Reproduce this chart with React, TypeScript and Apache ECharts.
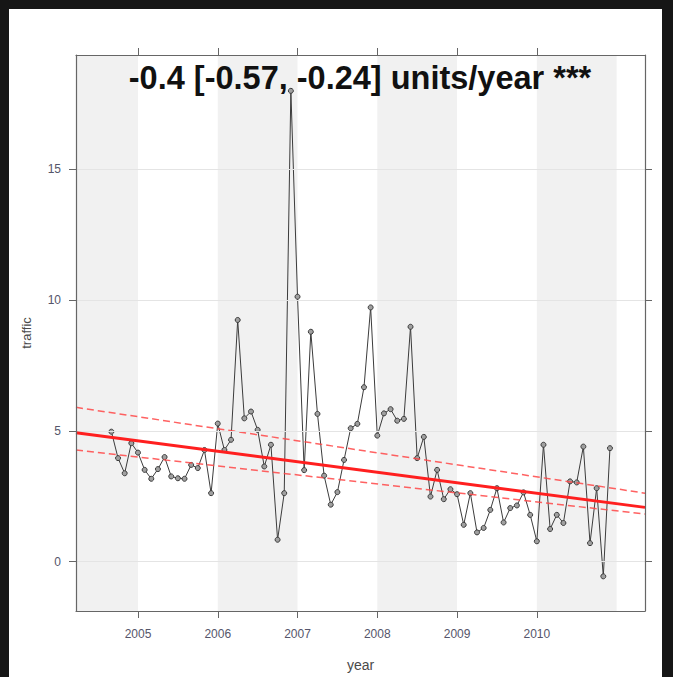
import React, { useEffect, useRef } from "react";
import * as echarts from "echarts";

// Monthly mean traffic, Sep 2004 – Dec 2010
const firstMonth = { year: 2004, month: 9 };
const trafficValues = [
  4.97, 3.96, 3.38, 4.53, 4.17, 3.51, 3.17, 3.54, 4.0, 3.26,
  3.19, 3.17, 3.7, 3.58, 4.27, 2.62, 5.28, 4.27, 4.66, 9.24,
  5.48, 5.74, 5.04, 3.64, 4.47, 0.84, 2.62, 18.0, 10.13, 3.5,
  8.79, 5.65, 3.29, 2.18, 2.66, 3.89, 5.1, 5.27, 6.67, 9.72,
  4.82, 5.67, 5.83, 5.39, 5.46, 8.98, 3.96, 4.77, 2.49, 3.51,
  2.39, 2.77, 2.58, 1.41, 2.62, 1.12, 1.29, 1.98, 2.81, 1.5,
  2.05, 2.15, 2.65, 1.79, 0.78, 4.47, 1.25, 1.79, 1.48, 3.07,
  3.03, 4.4, 0.71, 2.81, -0.56, 4.34,
];

// Axis extents (decimal years / traffic units)
const xRange = [2004.223, 2011.356];
const yRange = [-1.885, 19.37];
const yearTicks = [2005, 2006, 2007, 2008, 2009, 2010];
const trafficTicks = [0, 5, 10, 15];
// Alternate shaded year strips
const shadedYears = [
  [2004.223, 2005],
  [2006, 2007],
  [2008, 2009],
  [2010, 2011],
];

// Theil-Sen trend: slope in units/year and its interval
const trendSlope = -0.4;
const trendStart = 4.93;
const upperBand = [5.9, 2.62];
const lowerBand = [4.27, 1.82];
const titleText = "-0.4 [-0.57, -0.24] units/year ***";

const FONT = '"Liberation Sans", Arial, sans-serif';
const AXIS_COLOR = "#666666";
const LABEL_COLOR = "#55556a";

function monthToYear(i: number): number {
  const m = firstMonth.month - 1 + i;
  return firstMonth.year + Math.floor(m / 12) + (m % 12) / 12;
}

export default function App() {
  const ref = useRef<HTMLDivElement>(null);

  useEffect(() => {
    if (!ref.current) return;
    const chart = echarts.init(ref.current, null, { renderer: "svg" });

    const points = trafficValues.map((v, i) => [monthToYear(i), v]);
    const trendEnd = trendStart + trendSlope * (xRange[1] - xRange[0]);

    const axisLine = { show: true, onZero: false, lineStyle: { color: AXIS_COLOR, width: 1.2 } };
    const tickStyle = { color: AXIS_COLOR, width: 1 };

    chart.setOption({
      animation: false,
      backgroundColor: "transparent",
      grid: { left: 76, top: 55, right: 28, bottom: 66, containLabel: false },
      xAxis: [
        {
          type: "value",
          position: "bottom",
          z: 10,
          min: xRange[0],
          max: xRange[1],
          axisLine,
          axisTick: { show: true, length: 7, customValues: yearTicks, lineStyle: tickStyle },
          axisLabel: {
            customValues: yearTicks,
            formatter: (v: number) => String(v),
            margin: 17,
            fontSize: 12,
            fontFamily: FONT,
            color: LABEL_COLOR,
          },
          splitLine: { show: false },
          name: "year",
          nameLocation: "middle",
          nameGap: 47,
          nameTextStyle: { fontSize: 14, fontFamily: FONT, color: "#4a4a4a" },
        },
        {
          type: "value",
          position: "top",
          z: 10,
          min: xRange[0],
          max: xRange[1],
          axisLine,
          axisTick: { show: true, length: 7, customValues: yearTicks, lineStyle: tickStyle },
          axisLabel: { show: false },
          splitLine: { show: false },
        },
      ],
      yAxis: [
        {
          type: "value",
          position: "left",
          z: 10,
          min: yRange[0],
          max: yRange[1],
          axisLine,
          axisTick: { show: true, length: 7, customValues: trafficTicks, lineStyle: tickStyle },
          axisLabel: {
            customValues: trafficTicks,
            formatter: (v: number) => String(v),
            margin: 15,
            fontSize: 12,
            fontFamily: FONT,
            color: LABEL_COLOR,
          },
          splitLine: { show: false },
          name: "traffic",
          nameLocation: "middle",
          nameGap: 43,
          nameRotate: 90,
          nameTextStyle: { fontSize: 13, fontFamily: FONT, color: "#4a4a4a" },
        },
        {
          type: "value",
          position: "right",
          z: 10,
          min: yRange[0],
          max: yRange[1],
          axisLine,
          axisTick: { show: true, length: 7, customValues: trafficTicks, lineStyle: tickStyle },
          axisLabel: { show: false },
          splitLine: { show: false },
        },
      ],
      graphic: [
        {
          type: "text",
          x: 360,
          y: 78,
          z: 100,
          style: {
            text: titleText,
            fontSize: 32.5,
            fontWeight: "bold",
            fontFamily: FONT,
            fill: "#111111",
            align: "center",
            verticalAlign: "middle",
          },
        },
      ],
      series: [
        {
          name: "strips",
          type: "line",
          data: [],
          z: 1,
          silent: true,
          markArea: {
            silent: true,
            itemStyle: { color: "#f1f1f1" },
            data: shadedYears.map(([a, b]) => [{ xAxis: a }, { xAxis: b }]),
          },
        },
        {
          name: "grid",
          type: "line",
          data: [],
          z: 2,
          silent: true,
          markLine: {
            silent: true,
            symbol: "none",
            label: { show: false },
            lineStyle: { color: "#e4e4e4", type: "solid", width: 1 },
            data: trafficTicks.map((v) => ({ yAxis: v })),
          },
        },
        {
          name: "traffic",
          type: "line",
          data: points,
          z: 3,
          symbol: "circle",
          symbolSize: 5,
          showAllSymbol: true,
          lineStyle: { color: "#3c3c3c", width: 1 },
          itemStyle: { color: "#a0a0a0", borderColor: "#3a3a3a", borderWidth: 1 },
        },
        {
          name: "upper",
          type: "line",
          data: [
            [xRange[0], upperBand[0]],
            [xRange[1], upperBand[1]],
          ],
          z: 4,
          symbol: "none",
          lineStyle: { color: "rgba(255,70,70,0.85)", width: 1.5, type: [7, 4] },
        },
        {
          name: "lower",
          type: "line",
          data: [
            [xRange[0], lowerBand[0]],
            [xRange[1], lowerBand[1]],
          ],
          z: 4,
          symbol: "none",
          lineStyle: { color: "rgba(255,70,70,0.85)", width: 1.5, type: [7, 4] },
        },
        {
          name: "trend",
          type: "line",
          data: [
            [xRange[0], trendStart],
            [xRange[1], trendEnd],
          ],
          z: 5,
          symbol: "none",
          lineStyle: { color: "#ff1f1f", width: 3 },
        },
      ],
    });

    return () => chart.dispose();
  }, []);

  return (
    <div
      style={{
        position: "absolute",
        left: 0,
        top: 0,
        width: 673,
        height: 677,
        background: "#161616",
        overflow: "hidden",
      }}
    >
      <div
        style={{
          position: "absolute",
          left: 9,
          top: 9,
          width: 653,
          height: 668,
          background: "#ffffff",
        }}
      />
      <div ref={ref} style={{ position: "absolute", left: 0, top: 0, width: 673, height: 677 }} />
    </div>
  );
}
